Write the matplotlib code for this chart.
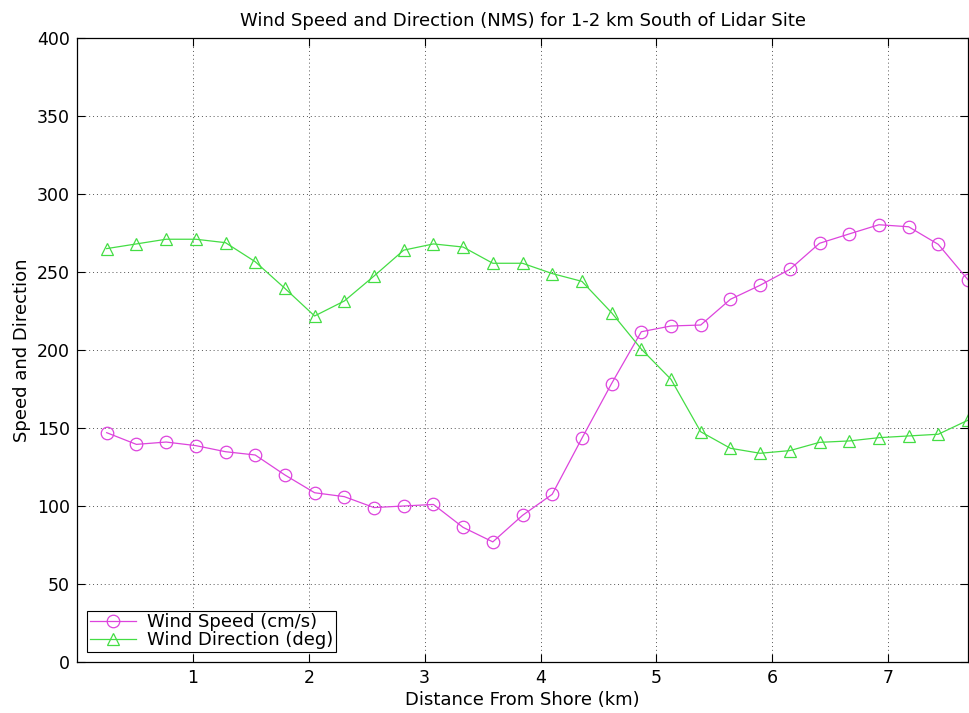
import numpy as np
import matplotlib
matplotlib.use('Agg')
import matplotlib.pyplot as plt

plt.rcParams['font.family'] = ['DejaVu Sans']

# distance from shore (km), 30 samples
step = 0.2563
distance = np.arange(1, 31) * step

wind_speed = [147, 139.5, 141, 138.7, 134.8, 132.7, 119.9, 108.5, 106, 99,
              100, 101, 86.3, 77, 94, 107.5, 143.4, 178.5, 211.7, 215.4,
              216, 232.5, 241.5, 251.7, 268.4, 274.4, 280.3, 279, 267.7, 245]
wind_dir = [265, 268, 271, 271, 268.8, 256.6, 239.5, 221.8, 231.4, 247.4,
            264, 268, 266, 255.6, 255.6, 249, 244, 223.9, 200.6, 181.2,
            147.6, 137, 133.8, 135.5, 140.8, 141.7, 143.8, 144.9, 146, 155]

x_ticks = [1, 2, 3, 4, 5, 6, 7]
y_ticks = [0, 50, 100, 150, 200, 250, 300, 350, 400]

fig = plt.figure(figsize=(9.69, 7.13), dpi=100)
ax = fig.add_axes([77/969, 1 - 662/713, 891/969, 624/713])

ax.plot(distance, wind_speed, color='#dd44dd', lw=0.9, marker='o', ms=9,
        mfc='none', mew=0.9, label='Wind Speed (cm/s)', clip_on=False)
ax.plot(distance, wind_dir, color='#44dd44', lw=0.9, marker='^', ms=9,
        mfc='none', mew=0.9, label='Wind Direction (deg)', clip_on=False)

ax.set_xlim(0, distance[-1])
ax.set_ylim(0, 400)
ax.set_xticks(x_ticks)
ax.set_yticks(y_ticks)
ax.tick_params(direction='in', top=True, right=True, labelsize=12.5, length=6,
               pad=5)
ax.grid(True, color='#555555', linestyle=(0, (1, 3)), linewidth=0.7)
for s in ax.spines.values():
    s.set_linewidth(0.9)

ax.set_title('Wind Speed and Direction (NMS) for 1-2 km South of Lidar Site',
             fontsize=13, pad=9)
ax.set_xlabel('Distance From Shore (km)', fontsize=13, labelpad=3)
ax.set_ylabel('Speed and Direction', fontsize=13, labelpad=4)

leg = ax.legend(loc='lower left', bbox_to_anchor=(0.011, 0.016), fontsize=13,
                fancybox=False, edgecolor='black', framealpha=1,
                borderpad=0.15, handlelength=2.6, labelspacing=0.0,
                handletextpad=0.6, borderaxespad=0)
leg.get_frame().set_linewidth(0.8)

fig.savefig('out.png', dpi=100)
